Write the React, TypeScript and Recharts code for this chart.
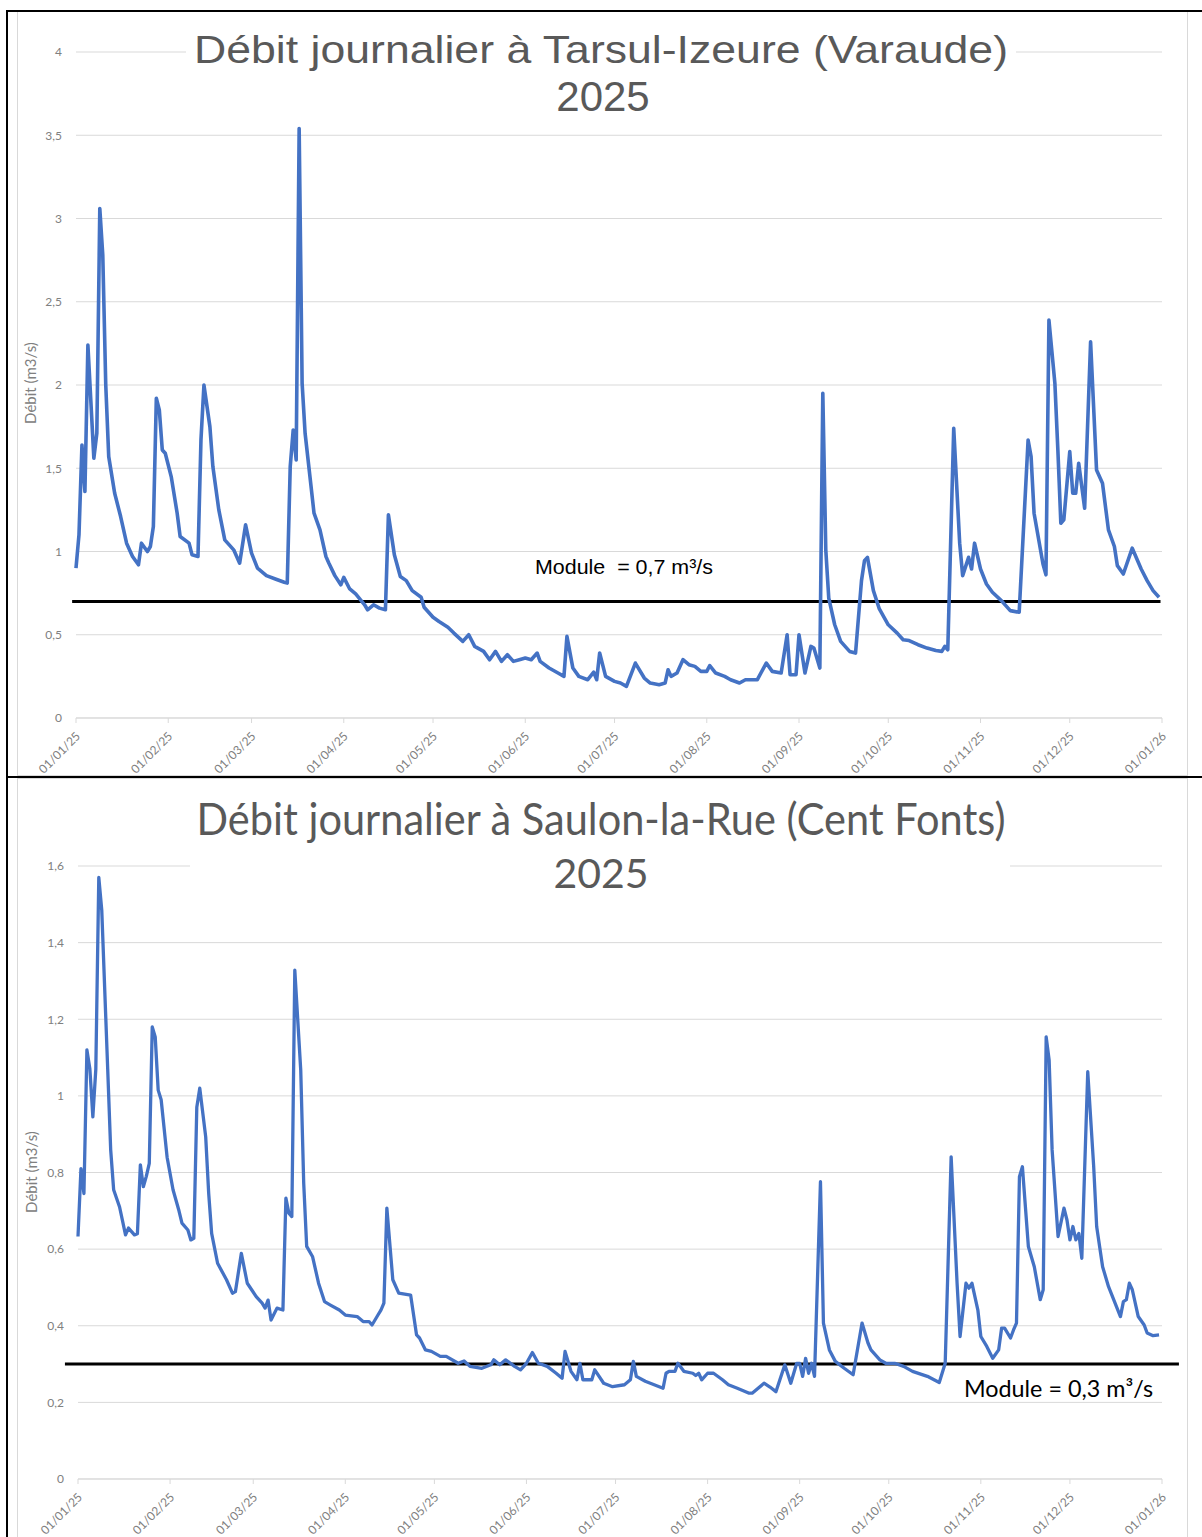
import { CartesianGrid, Line, LineChart, ReferenceLine, XAxis, YAxis } from 'recharts';

// day index (0 = 01/01/25) of each month start
const monthStarts = [0, 31, 59, 90, 120, 151, 181, 212, 243, 273, 304, 334, 365];
const monthLabels = [
  '01/01/25', '01/02/25', '01/03/25', '01/04/25', '01/05/25', '01/06/25', '01/07/25',
  '01/08/25', '01/09/25', '01/10/25', '01/11/25', '01/12/25', '01/01/26',
];

const tarsulTicks = [0, 0.5, 1, 1.5, 2, 2.5, 3, 3.5, 4];
const saulonTicks = [0, 0.2, 0.4, 0.6, 0.8, 1, 1.2, 1.4, 1.6];

const TARSUL_MODULE = 0.7;
const SAULON_MODULE = 0.3;

// [day, débit m3/s]
const tarsulFlow: [number, number][] = [
  [0, 0.9], [1, 1.1], [2, 1.64], [3, 1.36], [4, 2.24], [6, 1.56], [7, 1.71], [8, 3.06], [9, 2.78],
  [10, 2.0], [11, 1.57], [13, 1.35], [15, 1.21], [17, 1.05], [19, 0.97], [21, 0.92], [22, 1.05],
  [24, 1.0], [25, 1.03], [26, 1.15], [27, 1.92], [28, 1.85], [29, 1.61], [30, 1.59], [32, 1.45],
  [34, 1.23], [35, 1.09], [38, 1.05], [39, 0.98], [41, 0.97], [42, 1.67], [43, 2.0], [45, 1.75],
  [46, 1.51], [48, 1.25], [50, 1.07], [53, 1.01], [55, 0.93], [57, 1.16], [59, 0.99], [61, 0.9],
  [63, 0.87], [64, 0.855], [67, 0.835], [70, 0.815], [71, 0.81], [72, 1.51], [73, 1.73], [74, 1.55],
  [75, 3.54], [76, 2.01], [77, 1.71], [79, 1.39], [80, 1.23], [82, 1.13], [84, 0.97], [85, 0.93],
  [87, 0.855], [89, 0.8], [90, 0.845], [92, 0.775], [94, 0.745], [97, 0.68], [98, 0.65], [100, 0.68],
  [102, 0.66], [104, 0.65], [105, 1.22], [107, 0.98], [109, 0.85], [111, 0.825], [113, 0.765],
  [116, 0.725], [117, 0.665], [120, 0.605], [122, 0.58], [125, 0.545], [127, 0.51], [130, 0.46],
  [132, 0.5], [134, 0.43], [137, 0.4], [139, 0.35], [141, 0.4], [143, 0.34], [145, 0.38], [147, 0.34],
  [149, 0.35], [151, 0.36], [153, 0.35], [155, 0.39], [156, 0.34], [159, 0.3], [162, 0.27], [164, 0.25],
  [165, 0.49], [167, 0.3], [169, 0.25], [172, 0.23], [174, 0.275], [175, 0.23], [176, 0.39], [178, 0.25],
  [181, 0.22], [183, 0.21], [185, 0.19], [188, 0.33], [191, 0.24], [193, 0.21], [196, 0.2], [198, 0.21],
  [199, 0.29], [200, 0.25], [202, 0.27], [204, 0.35], [206, 0.32], [208, 0.31], [210, 0.28], [212, 0.28],
  [213, 0.315], [215, 0.27], [218, 0.25], [220, 0.23], [223, 0.21], [225, 0.23], [229, 0.23], [232, 0.33],
  [234, 0.28], [237, 0.27], [239, 0.5], [240, 0.26], [242, 0.26], [243, 0.5], [245, 0.27], [247, 0.43],
  [248, 0.42], [250, 0.3], [251, 1.95], [252, 1.01], [253, 0.72], [255, 0.56], [257, 0.46], [260, 0.4],
  [262, 0.39], [264, 0.825], [265, 0.945], [266, 0.965], [268, 0.765], [270, 0.655], [273, 0.56],
  [276, 0.51], [278, 0.47], [280, 0.465], [283, 0.44], [286, 0.42], [289, 0.405], [291, 0.4], [292, 0.43],
  [293, 0.41], [295, 1.74], [297, 1.05], [298, 0.855], [300, 0.965], [301, 0.895], [302, 1.05],
  [304, 0.895], [306, 0.805], [308, 0.755], [311, 0.705], [314, 0.645], [317, 0.635], [320, 1.67],
  [321, 1.57], [322, 1.23], [325, 0.925], [326, 0.86], [327, 2.39], [329, 2.01], [330, 1.61], [331, 1.17],
  [332, 1.19], [334, 1.6], [335, 1.35], [336, 1.35], [337, 1.53], [339, 1.26], [341, 2.26], [343, 1.49],
  [345, 1.41], [347, 1.13], [349, 1.03], [350, 0.915], [352, 0.865], [355, 1.02], [358, 0.895],
  [360, 0.825], [362, 0.765], [364, 0.725],
];

const saulonFlow: [number, number][] = [
  [0, 0.633], [1, 0.81], [2, 0.745], [3, 1.12], [4, 1.07], [5, 0.945], [6, 1.07], [7, 1.57], [8, 1.485],
  [10, 1.07], [11, 0.86], [12, 0.755], [14, 0.71], [16, 0.637], [17, 0.655], [19, 0.637], [20, 0.64],
  [21, 0.82], [22, 0.763], [23, 0.79], [24, 0.824], [25, 1.18], [26, 1.154], [27, 1.015], [28, 0.99],
  [30, 0.84], [32, 0.755], [34, 0.7], [35, 0.668], [37, 0.65], [38, 0.624], [39, 0.628], [40, 0.97],
  [41, 1.02], [43, 0.893], [44, 0.746], [45, 0.641], [47, 0.563], [50, 0.52], [52, 0.485], [53, 0.489],
  [55, 0.589], [57, 0.511], [60, 0.476], [62, 0.459], [63, 0.446], [64, 0.467], [65, 0.415], [67, 0.446],
  [69, 0.441], [70, 0.733], [71, 0.694], [72, 0.685], [73, 1.328], [75, 1.067], [76, 0.772], [77, 0.607],
  [79, 0.58], [81, 0.511], [83, 0.463], [85, 0.454], [88, 0.441], [90, 0.428], [94, 0.424], [96, 0.411],
  [98, 0.411], [99, 0.402], [101, 0.428], [102, 0.441], [103, 0.459], [104, 0.707], [106, 0.52],
  [108, 0.485], [112, 0.48], [114, 0.376], [115, 0.368], [117, 0.337], [119, 0.333], [122, 0.32],
  [124, 0.32], [128, 0.302], [130, 0.308], [132, 0.294], [136, 0.289], [139, 0.298], [140, 0.311],
  [142, 0.298], [144, 0.311], [147, 0.294], [149, 0.285], [151, 0.302], [153, 0.33], [155, 0.302],
  [158, 0.294], [161, 0.276], [163, 0.263], [164, 0.333], [166, 0.281], [168, 0.259], [169, 0.302],
  [170, 0.259], [173, 0.259], [174, 0.285], [177, 0.25], [180, 0.241], [184, 0.246], [186, 0.259],
  [187, 0.307], [188, 0.268], [191, 0.255], [194, 0.246], [197, 0.237], [198, 0.276], [199, 0.281],
  [201, 0.281], [202, 0.302], [204, 0.281], [207, 0.276], [208, 0.27], [209, 0.276], [210, 0.259],
  [212, 0.276], [214, 0.276], [217, 0.259], [219, 0.246], [222, 0.237], [226, 0.224], [227, 0.224],
  [231, 0.25], [233, 0.24], [235, 0.228], [238, 0.298], [240, 0.25], [242, 0.302], [243, 0.302],
  [244, 0.268], [245, 0.315], [246, 0.276], [247, 0.302], [248, 0.268], [250, 0.776], [251, 0.407],
  [253, 0.337], [255, 0.307], [258, 0.289], [261, 0.272], [264, 0.407], [266, 0.355], [267, 0.337],
  [270, 0.311], [272, 0.302], [275, 0.302], [278, 0.294], [281, 0.281], [286, 0.268], [290, 0.252],
  [292, 0.302], [294, 0.841], [296, 0.511], [297, 0.372], [299, 0.511], [300, 0.498], [301, 0.511],
  [303, 0.441], [304, 0.372], [306, 0.346], [308, 0.315], [310, 0.337], [311, 0.394], [312, 0.394],
  [314, 0.368], [315, 0.389], [316, 0.407], [317, 0.789], [318, 0.815], [320, 0.607], [322, 0.554],
  [324, 0.468], [325, 0.494], [326, 1.154], [327, 1.093], [328, 0.859], [330, 0.633], [332, 0.707],
  [333, 0.676], [334, 0.624], [335, 0.659], [336, 0.624], [337, 0.641], [338, 0.576], [340, 1.063],
  [342, 0.815], [343, 0.659], [345, 0.554], [347, 0.502], [349, 0.463], [351, 0.424], [352, 0.463],
  [353, 0.468], [354, 0.511], [355, 0.494], [357, 0.424], [359, 0.402], [360, 0.381], [362, 0.374],
  [364, 0.376],
];

const BLUE = '#4472C4';
const GRID = '#d9d9d9';
const AXIS_TEXT = '#808080';
const TITLE = '#595959';
const SANS = 'Lato, "Open Sans", sans-serif';
const ARIAL = '"Liberation Sans", Arial, sans-serif';

const toRows = (pts: [number, number][]) => pts.map(([day, flow]) => ({ day, flow }));
const commaDecimal = (v: number) => String(v).replace('.', ',');

// rotated date label, end anchored under the month tick
function DateTick({ x, y, payload }: any) {
  const label = monthLabels[monthStarts.indexOf(payload.value)];
  const ax = x + 5;
  const ay = y + 12;
  return (
    <text
      x={ax}
      y={ay}
      textAnchor="end"
      fontSize={12}
      fontFamily={SANS}
      fill={AXIS_TEXT}
      transform={`rotate(-45, ${ax}, ${ay})`}
    >
      {label}
    </text>
  );
}

interface FlowChartProps {
  top: number;
  height: number;
  plotTop: number;
  plotLeft: number;
  points: [number, number][];
  yMax: number;
  yTicks: number[];
  moduleValue: number;
  moduleFrom: number;
  moduleTo: number;
  strokeWidth: number;
  overlay: React.ReactNode;
}

function FlowChart(p: FlowChartProps) {
  return (
    <div style={{ position: 'absolute', left: 0, top: p.top, width: 1202, height: p.height }}>
      <LineChart
        width={1202}
        height={p.height}
        data={toRows(p.points)}
        margin={{ top: p.plotTop, right: 40, left: 0, bottom: 18 }}
      >
        <CartesianGrid vertical={false} stroke={GRID} />
        <XAxis
          dataKey="day"
          type="number"
          domain={[0, 365]}
          ticks={monthStarts}
          interval={0}
          height={40}
          axisLine={{ stroke: GRID }}
          tickLine={{ stroke: GRID }}
          tickSize={5}
          tick={<DateTick />}
        />
        <YAxis
          type="number"
          domain={[0, p.yMax]}
          ticks={p.yTicks}
          interval={0}
          width={p.plotLeft}
          axisLine={false}
          tickLine={false}
          tickSize={0}
          tickMargin={14}
          tickFormatter={commaDecimal}
          tick={{ fontSize: 12, fill: AXIS_TEXT, fontFamily: SANS }}
        />
        <ReferenceLine
          segment={[
            { x: p.moduleFrom, y: p.moduleValue },
            { x: p.moduleTo, y: p.moduleValue },
          ]}
          stroke="#000"
          strokeWidth={3}
          ifOverflow="visible"
        />
        <Line
          type="linear"
          dataKey="flow"
          stroke={BLUE}
          strokeWidth={p.strokeWidth}
          strokeLinejoin="round"
          dot={false}
          activeDot={false}
          isAnimationActive={false}
        />
      </LineChart>
      <svg
        width={1202}
        height={p.height}
        style={{ position: 'absolute', left: 0, top: 0, pointerEvents: 'none' }}
      >
        {p.overlay}
      </svg>
    </div>
  );
}

export default function App() {
  return (
    <div style={{ position: 'absolute', left: 0, top: 0, width: 1202, height: 1537, background: '#fff', overflow: 'hidden' }}>
      {/* chart area borders */}
      <div style={{ position: 'absolute', left: 17, top: 11, width: 1171, height: 765, border: `1px solid ${GRID}`, boxSizing: 'border-box' }} />
      <div style={{ position: 'absolute', left: 17, top: 778, width: 1171, height: 770, border: `1px solid ${GRID}`, boxSizing: 'border-box' }} />

      <FlowChart
        top={0}
        height={776}
        plotTop={52}
        plotLeft={76}
        points={tarsulFlow}
        yMax={4}
        yTicks={tarsulTicks}
        moduleValue={TARSUL_MODULE}
        moduleFrom={-1.3}
        moduleTo={364.5}
        strokeWidth={3.6}
        overlay={
          <>
            <rect x={186} y={22} width={830} height={98} fill="#fff" />
            <text x={601} y={63} textAnchor="middle" fontSize={39} fontFamily={ARIAL} fill={TITLE} textLength={814} lengthAdjust="spacingAndGlyphs">
              Débit journalier à Tarsul-Izeure (Varaude)
            </text>
            <text x={603} y={111} textAnchor="middle" fontSize={42} fontFamily={ARIAL} fill={TITLE}>
              2025
            </text>
            <text x={535} y={574} fontSize={21} fontFamily={ARIAL} fill="#000" textLength={178} lengthAdjust="spacingAndGlyphs" style={{ whiteSpace: 'pre' }}>
              {'Module  = 0,7 m³/s'}
            </text>
            <text x={36} y={383} textAnchor="middle" fontSize={15} fontFamily={SANS} fill={AXIS_TEXT} transform="rotate(-90, 36, 383)">
              Débit (m3/s)
            </text>
          </>
        }
      />

      <FlowChart
        top={777}
        height={760}
        plotTop={89}
        plotLeft={78}
        points={saulonFlow}
        yMax={1.6}
        yTicks={saulonTicks}
        moduleValue={SAULON_MODULE}
        moduleFrom={-4.4}
        moduleTo={370.7}
        strokeWidth={3.3}
        overlay={
          <>
            <rect x={190} y={20} width={820} height={100} fill="#fff" />
            <text x={601} y={58} textAnchor="middle" fontSize={44} fontFamily={SANS} fill={TITLE} textLength={809} lengthAdjust="spacingAndGlyphs">
              Débit journalier à Saulon-la-Rue (Cent Fonts)
            </text>
            <text x={601} y={111} textAnchor="middle" fontSize={41} fontFamily={SANS} fill={TITLE}>
              2025
            </text>
            <text x={964} y={620} fontSize={23} fontFamily={SANS} fill="#000" textLength={189} lengthAdjust="spacingAndGlyphs">
              Module = 0,3 m³/s
            </text>
            <text x={37} y={395} textAnchor="middle" fontSize={15} fontFamily={SANS} fill={AXIS_TEXT} transform="rotate(-90, 37, 395)">
              Débit (m3/s)
            </text>
          </>
        }
      />

      {/* table cell borders */}
      <div style={{ position: 'absolute', left: 7, top: 10, width: 1195, height: 2, background: '#000' }} />
      <div style={{ position: 'absolute', left: 7, top: 776, width: 1195, height: 2, background: '#000' }} />
      <div style={{ position: 'absolute', left: 6, top: 10, width: 2, height: 1527, background: '#000' }} />
    </div>
  );
}
